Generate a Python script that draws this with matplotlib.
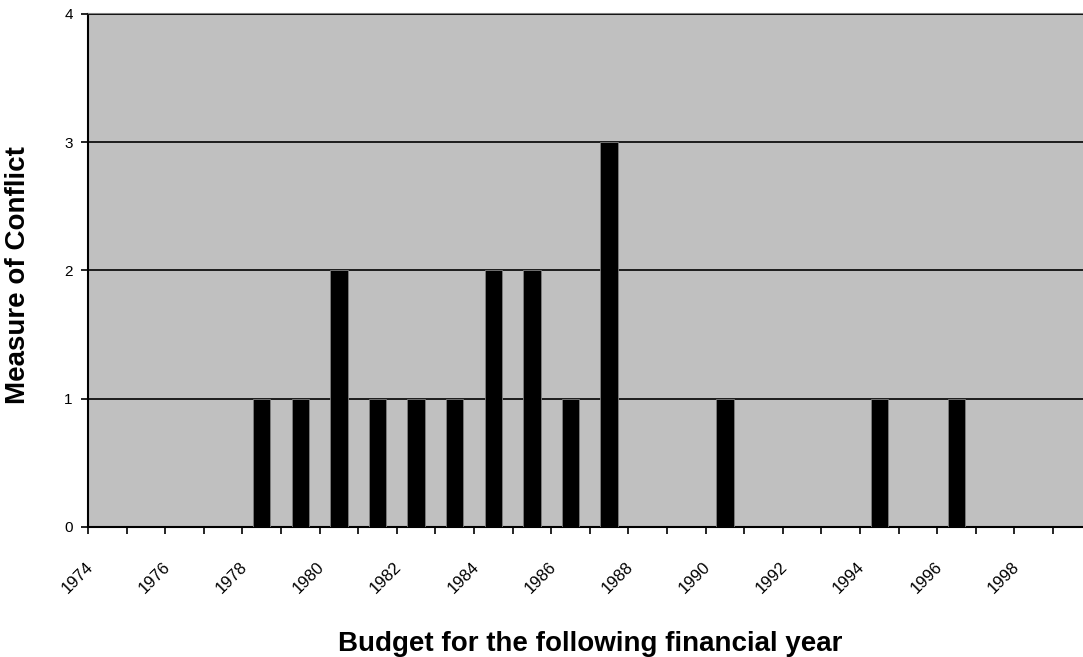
import numpy as np
import matplotlib
matplotlib.use("Agg")
import matplotlib.pyplot as plt
from matplotlib.transforms import ScaledTranslation

# === Data ===
years = list(range(1974, 2000))
conflict = [0, 0, 0, 0, 1, 1, 2, 1, 1, 1, 2, 2, 1, 3, 0, 0, 1, 0, 0, 0, 1, 0, 1, 0, 0, 0]
tick_labels = [str(y) if (y - 1974) % 2 == 0 else "" for y in years]

plt.rcParams["font.family"] = ["Liberation Sans", "DejaVu Sans"]

# === Figure ===
fig = plt.figure(figsize=(10.83, 6.57), dpi=100)
ax = fig.add_axes([0.0813, 0.198, 0.9267, 0.781])
ax.set_facecolor("#c0c0c0")

x = np.arange(len(years))
ax.bar(x + 0.5, conflict, width=0.45, color="black", edgecolor="#808080", linewidth=0.6, zorder=3)

ax.set_xlim(0, len(years))
ax.set_ylim(0, 4)
ax.set_yticks([0, 1, 2, 3, 4])
ax.yaxis.grid(True, color="black", linewidth=1.2, zorder=2)
ax.set_axisbelow(False)

# tick params first, otherwise they reset the label transforms
ax.tick_params(axis="x", length=5, width=1.2, pad=18)
ax.tick_params(axis="y", length=5, width=1.2, pad=6, labelsize=11)

ax.set_xticks(x)
ax.set_xticklabels(tick_labels, rotation=45, ha="right", va="top", fontsize=12)
shift = ScaledTranslation(5.5 / 72, 0, fig.dpi_scale_trans)
for lbl in ax.get_xticklabels():
    lbl.set_transform(lbl.get_transform() + shift)

for side in ["left", "bottom"]:
    ax.spines[side].set_color("black")
    ax.spines[side].set_linewidth(1.5)
ax.spines["top"].set_color("#808080")
ax.spines["top"].set_linewidth(1.5)
ax.spines["right"].set_visible(False)

ax.set_xlabel("Budget for the following financial year", fontsize=20, fontweight="bold", va="center")
ax.xaxis.set_label_coords(0.5, -0.228)
ax.set_ylabel("Measure of Conflict", fontsize=20, fontweight="bold", va="center")
ax.yaxis.set_label_coords(-0.07, 0.49)

plt.savefig("out.png", dpi=100)
